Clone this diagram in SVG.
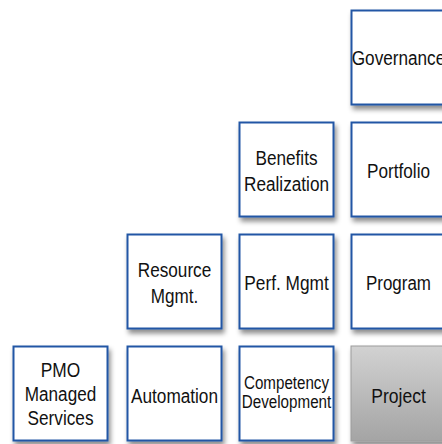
<svg xmlns="http://www.w3.org/2000/svg" width="442" height="444" viewBox="0 0 442 444">
  <defs>
    <filter id="sh" x="-20%" y="-20%" width="140%" height="140%">
      <feDropShadow dx="2" dy="4" stdDeviation="2.5" flood-color="#000" flood-opacity="0.45"/>
    </filter>
    <linearGradient id="gray" x1="0" y1="0" x2="0" y2="1">
      <stop offset="0" stop-color="#d2d2d2"/>
      <stop offset="1" stop-color="#a4a4a4"/>
    </linearGradient>
    <style>
      .box { fill: #ffffff; stroke: #2356a5; stroke-width: 2; filter: url(#sh); }
      .gbox { fill: url(#gray); stroke: #9c9c9c; stroke-width: 1; filter: url(#sh); }
      .t { font-family: "Liberation Sans", Arial, sans-serif; font-size: 20px; fill: #111; text-anchor: middle; }
      .s { font-size: 17.5px; }
    </style>
  </defs>
  <rect width="442" height="444" fill="#ffffff"/>
  <g id="connectors"/>

  <g id="governance">
    <rect class="box" x="351.5" y="10.5" width="94" height="94"/>
    <text class="t" x="398.5" y="65" textLength="93.5" lengthAdjust="spacingAndGlyphs">Governance</text>
  </g>

  <g id="benefits">
    <rect class="box" x="239.5" y="122.5" width="94" height="94"/>
    <text class="t" x="286.5" y="165" textLength="62" lengthAdjust="spacingAndGlyphs">Benefits</text>
    <text class="t" x="286.5" y="191" textLength="85" lengthAdjust="spacingAndGlyphs">Realization</text>
  </g>
  <g id="portfolio">
    <rect class="box" x="351.5" y="122.5" width="94" height="94"/>
    <text class="t" x="398.5" y="178" textLength="63" lengthAdjust="spacingAndGlyphs">Portfolio</text>
  </g>

  <g id="resource">
    <rect class="box" x="127.5" y="234.5" width="94" height="94"/>
    <text class="t" x="174.5" y="277" textLength="73.5" lengthAdjust="spacingAndGlyphs">Resource</text>
    <text class="t" x="174.5" y="303" textLength="47.5" lengthAdjust="spacingAndGlyphs">Mgmt.</text>
  </g>
  <g id="perf">
    <rect class="box" x="239.5" y="234.5" width="94" height="94"/>
    <text class="t" x="286.5" y="290" textLength="84.5" lengthAdjust="spacingAndGlyphs">Perf. Mgmt</text>
  </g>
  <g id="program">
    <rect class="box" x="351.5" y="234.5" width="94" height="94"/>
    <text class="t" x="398.5" y="290" textLength="65" lengthAdjust="spacingAndGlyphs">Program</text>
  </g>

  <g id="pmo">
    <rect class="box" x="13.5" y="346.5" width="94" height="94"/>
    <text class="t" x="60.5" y="377" textLength="39.5" lengthAdjust="spacingAndGlyphs">PMO</text>
    <text class="t" x="60.5" y="401" textLength="71.5" lengthAdjust="spacingAndGlyphs">Managed</text>
    <text class="t" x="60.5" y="425" textLength="66" lengthAdjust="spacingAndGlyphs">Services</text>
  </g>
  <g id="automation">
    <rect class="box" x="127.5" y="346.5" width="94" height="94"/>
    <text class="t" x="174.5" y="403" textLength="87" lengthAdjust="spacingAndGlyphs">Automation</text>
  </g>
  <g id="competency">
    <rect class="box" x="239.5" y="346.5" width="94" height="94"/>
    <text class="t s" x="286.5" y="389" textLength="85" lengthAdjust="spacingAndGlyphs">Competency</text>
    <text class="t s" x="286.5" y="408" textLength="89.5" lengthAdjust="spacingAndGlyphs">Development</text>
  </g>
  <g id="project">
    <rect class="gbox" x="351" y="346" width="95" height="95"/>
    <text class="t" x="398.5" y="403" textLength="54.5" lengthAdjust="spacingAndGlyphs">Project</text>
  </g>
</svg>
